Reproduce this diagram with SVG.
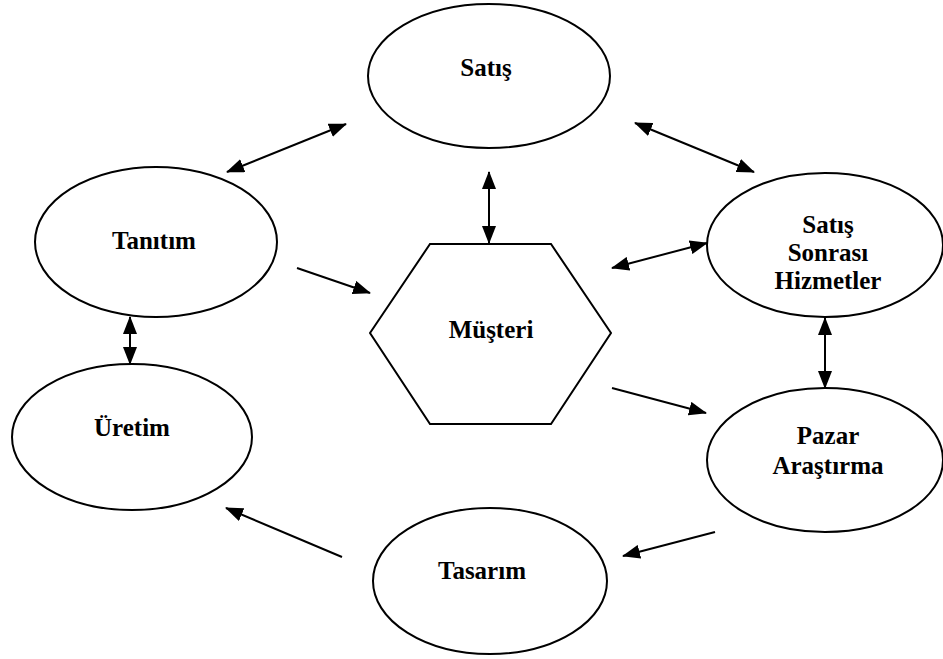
<svg xmlns="http://www.w3.org/2000/svg" width="943" height="659" viewBox="0 0 943 659">
  <style>
    .shape { fill: #ffffff; stroke: #000000; stroke-width: 2; }
    .label { font-family: "Liberation Serif", "Times New Roman", serif; font-weight: bold; font-size: 25px; fill: #000000; text-anchor: middle; }
    .link { stroke: #000000; stroke-width: 2; fill: none; }
    .one { marker-end: url(#head); }
    .two { marker-start: url(#tail); marker-end: url(#head); }
  </style>
  <defs>
    <marker id="head" markerUnits="userSpaceOnUse" markerWidth="18" markerHeight="14" refX="17" refY="7" orient="auto">
      <path d="M0,0 L18,7 L0,14 z" fill="#000000"/>
    </marker>
    <marker id="tail" markerUnits="userSpaceOnUse" markerWidth="18" markerHeight="14" refX="1" refY="7" orient="auto">
      <path d="M18,0 L0,7 L18,14 z" fill="#000000"/>
    </marker>
  </defs>
  <rect width="943" height="659" fill="#ffffff"/>

  <g id="satis">
    <ellipse class="shape" cx="489" cy="76" rx="121" ry="72"/>
    <text class="label" x="486" y="76">Satış</text>
  </g>
  <g id="tanitim">
    <ellipse class="shape" cx="156" cy="242" rx="121" ry="75"/>
    <text class="label" x="154" y="249">Tanıtım</text>
  </g>
  <g id="uretim">
    <ellipse class="shape" cx="132" cy="437" rx="120" ry="73"/>
    <text class="label" x="132" y="436">Üretim</text>
  </g>
  <g id="musteri">
    <polygon class="shape" points="370,333 430,244 551,244 611,333 551,424 430,424"/>
    <text class="label" x="491" y="338">Müşteri</text>
  </g>
  <g id="satis-sonrasi">
    <ellipse class="shape" cx="825" cy="245" rx="118" ry="72"/>
    <text class="label" x="828" y="233">Satış</text>
    <text class="label" x="828" y="261">Sonrası</text>
    <text class="label" x="828" y="289">Hizmetler</text>
  </g>
  <g id="pazar">
    <ellipse class="shape" cx="825" cy="460" rx="118" ry="72"/>
    <text class="label" x="828" y="444">Pazar</text>
    <text class="label" x="828" y="474">Araştırma</text>
  </g>
  <g id="tasarim">
    <ellipse class="shape" cx="490" cy="581" rx="117" ry="73"/>
    <text class="label" x="482" y="579">Tasarım</text>
  </g>

  <g id="connectors">
    <line class="link two" x1="227" y1="172" x2="346" y2="124"/>
    <line class="link two" x1="635" y1="123" x2="754" y2="172"/>
    <line class="link two" x1="489" y1="172" x2="489" y2="243"/>
    <line class="link two" x1="612" y1="268" x2="707" y2="243"/>
    <line class="link one" x1="297" y1="268" x2="370" y2="293"/>
    <line class="link two" x1="130" y1="317" x2="130" y2="364"/>
    <line class="link two" x1="825" y1="318" x2="825" y2="388"/>
    <line class="link one" x1="612" y1="388" x2="706" y2="413"/>
    <line class="link one" x1="715" y1="532" x2="623" y2="556"/>
    <line class="link one" x1="342" y1="557" x2="226" y2="508"/>
  </g>
</svg>
